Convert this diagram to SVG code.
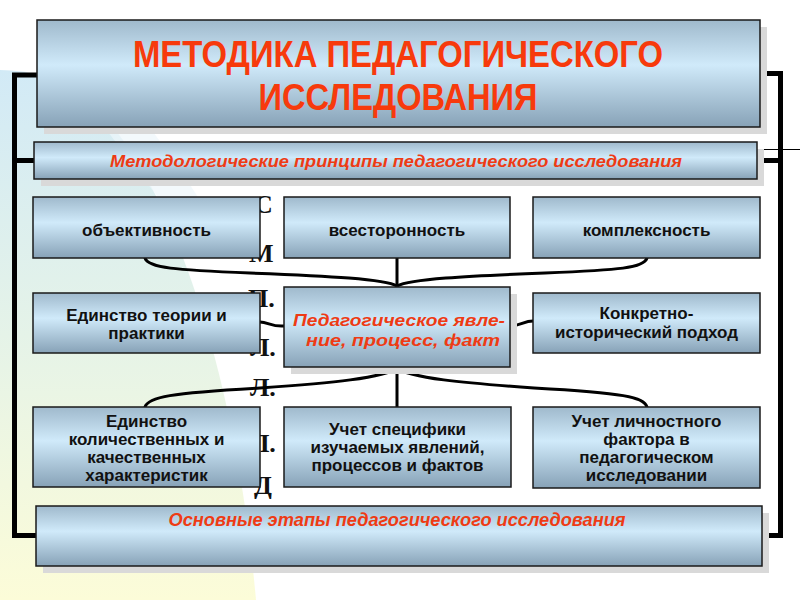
<svg xmlns="http://www.w3.org/2000/svg" width="800" height="600" viewBox="0 0 800 600">
<defs>
<linearGradient id="boxg" x1="0" y1="0" x2="0" y2="1">
<stop offset="0" stop-color="#9fb9cc"/>
<stop offset="0.42" stop-color="#d0eafa"/>
<stop offset="1" stop-color="#87a2b7"/>
</linearGradient>
<linearGradient id="bgg" x1="0" y1="0" x2="0" y2="1">
<stop offset="0" stop-color="#d2eaf6"/>
<stop offset="0.5" stop-color="#e5f3e8"/>
<stop offset="1" stop-color="#fcfcd8"/>
</linearGradient>
<style>
.box{fill:url(#boxg);stroke:#1a1a1a;stroke-width:1.5}
.sh{fill:#d9d9d9}
.t{font-family:"Liberation Sans",Arial,sans-serif;font-weight:bold;font-size:17px;fill:#111;text-anchor:middle}
.r{font-family:"Liberation Sans",Arial,sans-serif;font-weight:bold;font-style:italic;fill:#ee3b14;text-anchor:middle}
.h{font-family:"Liberation Sans",Arial,sans-serif;font-weight:bold;font-size:37px;fill:#f73a0c;text-anchor:middle}
.s{font-family:"Liberation Serif","Times New Roman",serif;font-weight:bold;font-size:26px;fill:#111}
.c{fill:none;stroke:#000;stroke-width:3;stroke-linecap:round;stroke-linejoin:round}
.f{fill:none;stroke:#000;stroke-width:5}
</style>
</defs>
<rect width="800" height="600" fill="#fff"/>
<path d="M0,70 C60,70 100,105 130,150 C195,250 240,420 256,600 L0,600 Z" fill="url(#bgg)"/>
<path d="M105,128 L150,128 C175,160 190,185 200,200 L160,200 Z" fill="#eef7fb" opacity="0.7"/>

<g id="stray">
<text class="s" x="254" y="213">С</text>
<text class="s" x="249" y="262">М</text>
<text class="s" x="248" y="307">П.</text>
<text class="s" x="250" y="356">Л.</text>
<text class="s" x="250" y="396">Л.</text>
<text class="s" x="250" y="452">Л.</text>
<text class="s" x="254" y="494">Д</text>
</g>

<g id="frame">
<path class="f" d="M37,75 H14.5 V535.5 H37"/>
<path class="f" d="M14.5,160.5 H34"/>
<path class="f" d="M761,73.5 H780.5 V535.5 H762"/>
<path class="f" d="M757,160.5 H780.5"/>
<path d="M757,149.5 H800" stroke="#000" stroke-width="1" fill="none"/>
</g>

<g id="connectors">
<path class="c" d="M145,258 C148,268 175,270 250,273 C330,276 385,279 397,286"/>
<path class="c" d="M647,258 C644,268 620,270 545,273 C465,276 410,279 397,286"/>
<path class="c" d="M397,258 V287"/>
<path class="c" d="M260,322 C268,322 272,327 284,326"/>
<path class="c" d="M510,326 C520,326 524,321 533,321"/>
<path class="c" d="M397,367 V407"/>
<path class="c" d="M397,368 C385,378 330,383 260,388 C170,393 148,397 145,407"/>
<path class="c" d="M397,368 C409,378 464,383 534,388 C624,393 644,397 647,407"/>
</g>

<g id="title">
<rect class="sh" x="44" y="27" width="723" height="107"/>
<rect class="box" x="37" y="20" width="723" height="107"/>
<text class="h" x="398" y="67" textLength="530" lengthAdjust="spacingAndGlyphs">МЕТОДИКА ПЕДАГОГИЧЕСКОГО</text>
<text class="h" x="398" y="110" textLength="279" lengthAdjust="spacingAndGlyphs">ИССЛЕДОВАНИЯ</text>
</g>

<g id="principles">
<rect class="sh" x="41" y="149" width="723" height="37"/>
<rect class="box" x="34" y="142" width="723" height="37"/>
<text class="r" x="396" y="167" font-size="17" textLength="572" lengthAdjust="spacingAndGlyphs">Методологические принципы педагогического исследования</text>
</g>

<g id="objectivity">
<rect class="box" x="33" y="197" width="227" height="61"/>
<text class="t" x="146.5" y="236">объективность</text>
</g>
<g id="comprehensiveness">
<rect class="box" x="284" y="197" width="226" height="61"/>
<text class="t" x="397" y="236">всесторонность</text>
</g>
<g id="complexity">
<rect class="box" x="533" y="197" width="227" height="61"/>
<text class="t" x="646.5" y="236">комплексность</text>
</g>

<g id="theory-practice">
<rect class="box" x="33" y="293" width="227" height="60"/>
<text class="t" x="146.5" y="321">Единство теории и</text>
<text class="t" x="146.5" y="339">практики</text>
</g>
<g id="phenomenon">
<rect class="sh" x="291" y="294" width="226" height="80"/>
<rect class="box" x="284" y="287" width="226" height="80"/>
<text class="r" x="399" y="326" font-size="17" textLength="212" lengthAdjust="spacingAndGlyphs">Педагогическое явле-</text>
<text class="r" x="403" y="346" font-size="17" textLength="194" lengthAdjust="spacingAndGlyphs">ние, процесс, факт</text>
</g>
<g id="historical">
<rect class="box" x="533" y="293" width="227" height="60"/>
<text class="t" x="646.5" y="319">Конкретно-</text>
<text class="t" x="646.5" y="338">исторический подход</text>
</g>

<g id="quant-qual">
<rect class="box" x="33" y="407" width="227" height="80"/>
<text class="t" x="146.5" y="427">Единство</text>
<text class="t" x="146.5" y="445">количественных и</text>
<text class="t" x="146.5" y="463">качественных</text>
<text class="t" x="146.5" y="481">характеристик</text>
</g>
<g id="specifics">
<rect class="box" x="284" y="407" width="227" height="80"/>
<text class="t" x="397.5" y="435">Учет специфики</text>
<text class="t" x="397.5" y="453">изучаемых явлений,</text>
<text class="t" x="397.5" y="471">процессов и фактов</text>
</g>
<g id="personal">
<rect class="box" x="533" y="407" width="227" height="81"/>
<text class="t" x="646.5" y="427">Учет личностного</text>
<text class="t" x="646.5" y="445">фактора в</text>
<text class="t" x="646.5" y="463">педагогическом</text>
<text class="t" x="646.5" y="481">исследовании</text>
</g>

<g id="stages">
<rect class="sh" x="43" y="513" width="726" height="60"/>
<rect class="box" x="36" y="506" width="726" height="60"/>
<text class="r" x="397" y="526" font-size="18" textLength="457" lengthAdjust="spacingAndGlyphs">Основные этапы педагогического исследования</text>
</g>
</svg>
